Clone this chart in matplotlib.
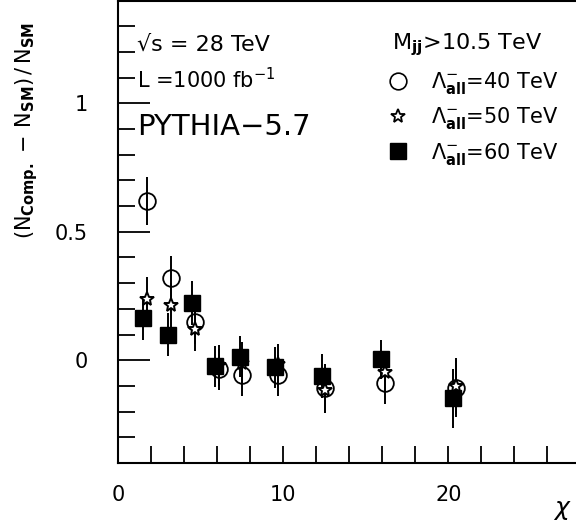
"""
plot.py
chi distribution, compositeness vs SM (PYTHIA 5.7)
"""

import numpy as np
import matplotlib
matplotlib.use("Agg")
import matplotlib.pyplot as plt
from matplotlib.lines import Line2D
from matplotlib.ticker import MultipleLocator, FixedLocator

plt.rcParams['font.family'] = ['DejaVu Sans']
plt.rcParams['mathtext.fontset'] = 'dejavusans'

# Lambda = 40 TeV (open circles)
chi40 = [1.75, 3.2, 4.65, 6.1, 7.5, 9.65, 12.55, 16.15, 20.45]
r40 = [0.62, 0.32, 0.15, -0.035, -0.058, -0.058, -0.11, -0.09, -0.11]
e40 = [0.095, 0.085, 0.085, 0.08, 0.08, 0.08, 0.095, 0.08, 0.11]

# Lambda = 50 TeV (open stars)
chi50 = [1.75, 3.2, 4.65, 6.1, 7.5, 9.65, 12.55, 16.15, 20.45]
r50 = [0.24, 0.215, 0.12, -0.02, -0.01, -0.015, -0.115, -0.045, -0.10]
e50 = [0.085, 0.085, 0.085, 0.08, 0.08, 0.08, 0.09, 0.08, 0.11]

# Lambda = 60 TeV (filled squares)
chi60 = [1.5, 3.0, 4.45, 5.85, 7.4, 9.5, 12.35, 15.95, 20.3]
r60 = [0.165, 0.10, 0.222, -0.023, 0.014, -0.028, -0.062, 0.003, -0.148]
e60 = [0.085, 0.085, 0.085, 0.08, 0.08, 0.08, 0.085, 0.075, 0.115]

labels = [r'$\Lambda^{-}_{\mathbf{all}}$=40 TeV',
          r'$\Lambda^{-}_{\mathbf{all}}$=50 TeV',
          r'$\Lambda^{-}_{\mathbf{all}}$=60 TeV']

fig = plt.figure(figsize=(5.76, 5.29), dpi=100)
ax = fig.add_axes([0.2054, 0.1248, 0.8021, 0.8740])

ekw = dict(ecolor='black', elinewidth=1.4, capsize=0, linestyle='none')
ax.errorbar(chi40, r40, yerr=e40, marker='o', ms=12, mfc='none', mec='black',
            mew=1.3, **ekw)
ax.errorbar(chi50, r50, yerr=e50, marker='*', ms=10, mfc='white', mec='black',
            mew=1.4, **ekw)
ax.errorbar(chi60, r60, yerr=e60, marker='s', ms=11, mfc='black', mec='black',
            **ekw)

ax.set_xlim(0, 28)
ax.set_ylim(-0.4, 1.4)

ax.xaxis.set_major_locator(FixedLocator([0, 10, 20]))
ax.xaxis.set_minor_locator(MultipleLocator(2))
ax.yaxis.set_major_locator(FixedLocator([0, 0.5, 1]))
ax.yaxis.set_minor_locator(MultipleLocator(0.1))
ax.set_yticklabels(['0', '0.5', '1'])
ax.tick_params(which='both', direction='in', width=1.3, labelsize=15,
               top=False, right=False)
ax.tick_params(axis='x', which='both', length=12, pad=16)
ax.tick_params(axis='y', which='minor', length=12)
ax.tick_params(axis='y', which='major', length=23, pad=22)
for s in ax.spines.values():
    s.set_linewidth(1.5)

ax.set_ylabel(r'$(\mathrm{N}_{\mathbf{Comp.}}\,-\,\mathrm{N}_{\mathbf{SM}})\,/\,\mathrm{N}_{\mathbf{SM}}$',
              fontsize=15)
ax.yaxis.set_label_coords(-0.17, 0.72)
ax.set_xlabel(r'$\chi$', fontsize=18)
ax.xaxis.set_label_coords(0.962, -0.075)

ax.text(0.04, 0.905, '\u221as = 28 TeV', transform=ax.transAxes,
        fontsize=16, va='center')
ax.text(0.04, 0.829, r'L =1000 fb$^{-1}$', transform=ax.transAxes,
        fontsize=15, va='center')
ax.text(0.04, 0.727, 'PYTHIA\u22125.7', transform=ax.transAxes,
        fontsize=21, va='center')
ax.text(0.592, 0.905, r'M$_{\mathbf{jj}}$>10.5 TeV', transform=ax.transAxes,
        fontsize=16, va='center')

handles = [Line2D([], [], ls='none', marker='o', ms=12, mfc='none', mec='black', mew=1.2),
           Line2D([], [], ls='none', marker='*', ms=10, mfc='white', mec='black', mew=1.3),
           Line2D([], [], ls='none', marker='s', ms=11, mfc='black', mec='black')]
ax.legend(handles, labels, loc='upper left', bbox_to_anchor=(0.582, 0.85),
          frameon=False, fontsize=15, handlelength=1.0, handletextpad=1.1,
          labelspacing=0.45, borderpad=0, borderaxespad=0)

fig.savefig("out.png", dpi=100)
